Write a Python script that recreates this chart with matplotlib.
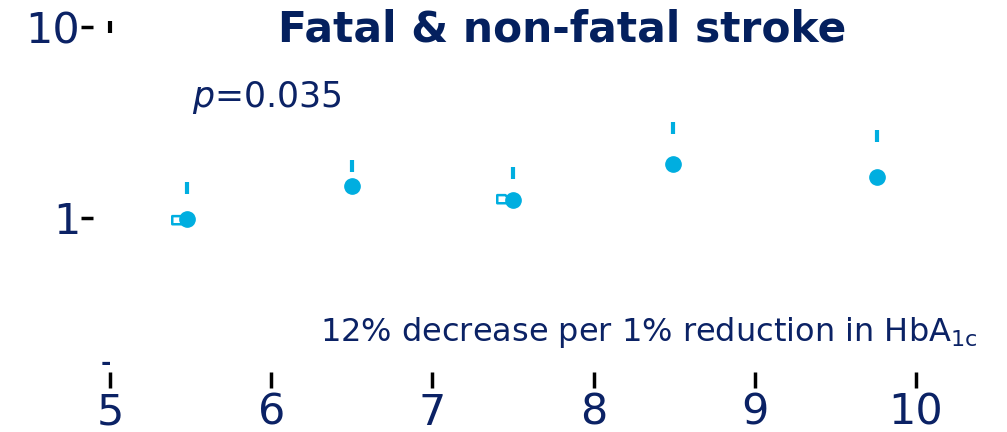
import matplotlib
matplotlib.use("Agg")
import matplotlib.pyplot as plt
from matplotlib.path import Path
import numpy as np

NAVY = "#0b2265"
TITLE_NAVY = "#04205e"
CYAN = "#00aee0"

# data
hba1c = [5.48, 6.50, 7.50, 8.49, 9.76]
hazard = [0.99, 1.47, 1.24, 1.92, 1.64]
upper_ci = [1.44, 1.87, 1.72, 2.96, 2.69]
lower_x = [5.42, 7.44]
lower_ci = [0.98, 1.26]
x_ticks = [5, 6, 7, 8, 9, 10]
y_ticks = [1, 10]
y_tick_labels = ["1", "10"]
title = "Fatal & non-fatal stroke"
p_text = "$p$=0.035"
note = "12% decrease per 1% reduction in HbA$_{\\mathrm{1c}}$"

W, H = 1007, 432
fig = plt.figure(figsize=(W / 100, H / 100), dpi=100)
ax_left, ax_bottom_px = 93, 380
ax = fig.add_axes([ax_left / W, (H - ax_bottom_px) / H, 1 - ax_left / W, ax_bottom_px / H])
ax.set_yscale("log")
pxu = 161.2
ax.set_xlim(5 - (110 - ax_left) / pxu, 5 + (W - 110) / pxu)
dec = 191.0
ax.set_ylim(10 ** (-(ax_bottom_px - 218) / dec), 10 ** (218 / dec))

for s in ax.spines.values():
    s.set_visible(False)

ax.set_xticks(x_ticks)
ax.set_xticklabels([str(t) for t in x_ticks])
ax.set_yticks(y_ticks)
ax.set_yticklabels(y_tick_labels)
ax.minorticks_off()
ax.tick_params(axis="x", direction="inout", length=11, width=2.5, color="black",
               labelsize=31, labelcolor=NAVY, pad=3)
ax.tick_params(axis="y", direction="out", length=9, width=2.5, color="black",
               labelsize=31, labelcolor=NAVY, pad=0)
ax.patch.set_alpha(0)

# upper CI marks
ax.plot(hba1c, upper_ci, ls="none", marker="|", ms=9, mew=3, color=CYAN)
# lower CI hollow marks
verts = [(-1, -0.6), (-1, 0.7), (0.3, 0.7), (1, 0.0), (1, -0.6), (-1, -0.6)]
codes = [Path.MOVETO] + [Path.LINETO] * 4 + [Path.CLOSEPOLY]
mk = Path(verts, codes)
ax.plot(lower_x, lower_ci, ls="none", marker=mk, ms=9, mfc="none", mec=CYAN, mew=1.8)
# points
ax.plot(hba1c, hazard, ls="none", marker="o", ms=11, color=CYAN)
# top decoration tick
ax.plot([5], [10], ls="none", marker="|", ms=8, mew=3, color="black")

fig.text(562 / W, 1 - 29 / H, title, ha="center", va="center", fontsize=30.5,
         fontweight="bold", color=TITLE_NAVY)
fig.text(192 / W, 1 - 97 / H, p_text, ha="left", va="center", fontsize=25, color=NAVY)
fig.text(320 / W, 1 - 332 / H, note, ha="left", va="center", fontsize=23, color=NAVY)
fig.text(106 / W, 1 - 363 / H, "-", ha="center", va="center", fontsize=18,
         fontweight="bold", color=NAVY)

fig.savefig("out.png", dpi=100)
